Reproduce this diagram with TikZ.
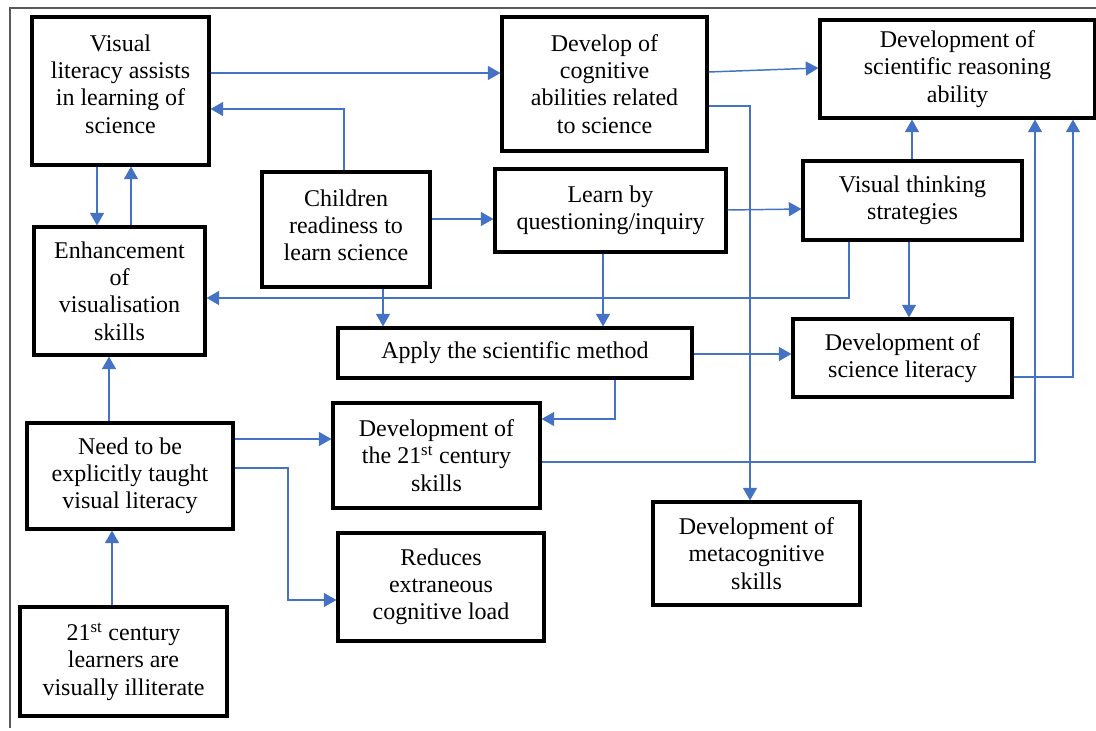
\documentclass[tikz,border=0pt]{standalone}
\usepackage{fontspec}
\setmainfont{Liberation Serif}
\usetikzlibrary{arrows.meta}
\definecolor{linkblue}{HTML}{4472C4}
\definecolor{framegray}{HTML}{5A5A5A}
\tikzset{
  box/.style={draw=black, line width=2.3pt, inner sep=0pt, align=center,
    font=\fontsize{18}{20.4}\selectfont},
  txt/.style={inner sep=0pt, align=center, font=\fontsize{18}{20.4}\selectfont},
  sz/.style 2 args={minimum width=#1*0.75pt, minimum height=#2*0.75pt},
  conn/.style={draw=linkblue, line width=1.1pt,
    -{Triangle[length=9.5pt,width=10.5pt]}},
  frameline/.style={draw=framegray, line width=1.5pt}
}
\begin{document}
\begin{tikzpicture}[x=0.75pt,y=-0.75pt]
\useasboundingbox (0,0) rectangle (1096,731);
\draw[frameline] (10,728) -- (10,8) -- (1096,8);

% boxes
\node[box, sz={177}{148}] (vl)  at (120.5,91) {};
\node[txt] (vlt) at (120.5,84) {Visual\\literacy assists\\in learning of\\science};
\node[box, sz={205}{134}] (dc)  at (604.5,84) {Develop of\\cognitive\\abilities related\\to science};
\node[box, sz={275}{98}]  (dsr) at (957.5,69) {Development of\\scientific reasoning\\ability};
\node[box, sz={168}{115}] (cr)  at (346,229.5) {};
\node[txt] (crt) at (346,225) {Children\\readiness to\\learn science};
\node[box, sz={231}{83}]  (lq)  at (610.5,210.5) {Learn by\\questioning/inquiry};
\node[box, sz={219}{79}]  (vts) at (912.5,200.5) {Visual thinking\\strategies};
\node[box, sz={171}{128}] (ev)  at (119.5,291) {Enhancement\\of\\visualisation\\skills};
\node[box, sz={354}{50}]  (ap)  at (515,353) {Apply the scientific method};
\node[box, sz={219}{78}]  (dsl) at (902.5,358) {Development of\\science literacy};
\node[box, sz={206}{106}] (nt)  at (130,476) {Need to be\\explicitly taught\\visual literacy};
\node[box, sz={207}{105}] (d21) at (436.5,455.5) {Development of\\the 21\textsuperscript{st} century\\skills};
\node[box, sz={207}{103}] (mc)  at (756.5,553.5) {Development of\\metacognitive\\skills};
\node[box, sz={206}{108}] (re)  at (441,587) {Reduces\\extraneous\\cognitive load};
\node[box, sz={207}{109}] (cl)  at (123.5,661.5) {21\textsuperscript{st} century\\learners are\\visually illiterate};

% connectors
\draw[conn] (vl.east |- 0,73) -- (dc.west |- 0,73);
\draw[conn] (dc.east |- 0,72) -- (dsr.west |- 0,68);
\draw[conn] (dc.east |- 0,106) -| (750,0 |- mc.north);
\draw[conn] (344,0 |- cr.north) |- (vl.east |- 0,109);
\draw[conn] (97,0 |- vl.south) -- (97,0 |- ev.north);
\draw[conn] (131,0 |- ev.north) -- (131,0 |- vl.south);
\draw[conn] (cr.east |- 0,219) -- (lq.west |- 0,219);
\draw[conn] (lq.east |- 0,210) -- (vts.west |- 0,209);
\draw[conn] (912,0 |- vts.north) -- (912,0 |- dsr.south);
\draw[conn] (849,0 |- vts.south) |- (ev.east |- 0,298);
\draw[conn] (909,0 |- vts.south) -- (909,0 |- dsl.north);
\draw[conn] (383,0 |- cr.south) -- (383,0 |- ap.north);
\draw[conn] (603,0 |- lq.south) -- (603,0 |- ap.north);
\draw[conn] (ap.east |- 0,354) -- (dsl.west |- 0,354);
\draw[conn] (615,0 |- ap.south) |- (d21.east |- 0,419);
\draw[conn] (dsl.east |- 0,377) -| (1073,0 |- dsr.south);
\draw[conn] (d21.east |- 0,462) -| (1035,0 |- dsr.south);
\draw[conn] (nt.east |- 0,439) -- (d21.west |- 0,439);
\draw[conn] (nt.east |- 0,468) -- (288,468) |- (re.west |- 0,600);
\draw[conn] (109,0 |- nt.north) -- (109,0 |- ev.south);
\draw[conn] (112,0 |- cl.north) -- (112,0 |- nt.south);
\end{tikzpicture}
\end{document}
